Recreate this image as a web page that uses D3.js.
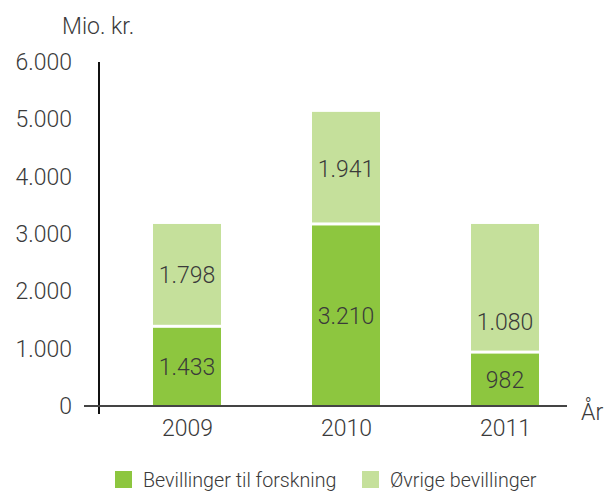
<!DOCTYPE html>
<html>
<head>
<meta charset="utf-8">
<script src="https://cdn.jsdelivr.net/npm/d3@7"></script>
<style>
  body { margin: 0; background: #fff; }
  svg text { font-family: "Roboto Light", Roboto, "Liberation Sans", sans-serif; font-weight: 300; fill: #3a3a3a; }
</style>
</head>
<body>
<div id="chart"></div>
<script>
const years = ["2009", "2010", "2011"];
// numbers printed on the bars
const forskning = [1433, 3210, 982];
const ovrige = [1798, 1941, 1080];
// segment heights as drawn in the picture (2011 is drawn taller than its labels)
const forskningDrawn = [1390, 3175, 940];
const ovrigeDrawn = [1785, 1955, 2235];
const yTicks = [0, 1000, 2000, 3000, 4000, 5000, 6000];
const legendLabels = ["Bevillinger til forskning", "Øvrige bevillinger"];

const width = 606, height = 491;
const colors = ["#8dc63f", "#c5e09b"];
const fmt = (v) => d3.format(",")(v).replace(/,/g, ".");

const svg = d3.select("#chart").append("svg")
  .attr("width", width).attr("height", height);

const y = d3.scaleLinear().domain([0, 6000]).range([406, 62]);
const x = d3.scalePoint().domain(years).range([187, 505]);
const barW = 68;
const gap = 1.5;

// bars
const g = svg.append("g");
years.forEach((yr, i) => {
  const f = forskningDrawn[i], o = ovrigeDrawn[i];
  g.append("rect")
    .attr("x", x(yr) - barW / 2).attr("width", barW)
    .attr("y", y(f) + gap).attr("height", y(0) - y(f) - gap)
    .attr("fill", colors[0]);
  g.append("rect")
    .attr("x", x(yr) - barW / 2).attr("width", barW)
    .attr("y", y(f + o)).attr("height", y(f) - y(f + o) - gap)
    .attr("fill", colors[1]);
  g.append("text")
    .attr("x", x(yr)).attr("y", y(forskning[i] / 2) + 2)
    .attr("text-anchor", "middle").attr("dy", "0.35em")
    .attr("font-size", 23).text(fmt(forskning[i]));
  g.append("text")
    .attr("x", x(yr)).attr("y", y(forskning[i] + ovrige[i] / 2) + 3)
    .attr("text-anchor", "middle").attr("dy", "0.35em")
    .attr("font-size", 23).text(fmt(ovrige[i]));
});

// y axis
const yAxis = svg.append("g").attr("transform", "translate(99,0)")
  .call(d3.axisLeft(y).tickValues(yTicks).tickSize(0).tickPadding(27).tickFormat(fmt));
yAxis.select(".domain").remove();
yAxis.selectAll("text").attr("font-size", 23).attr("fill", "#3a3a3a");
svg.append("line").attr("x1", 99).attr("x2", 99).attr("y1", 62).attr("y2", 414)
  .attr("stroke", "#111").attr("stroke-width", 2);

// x axis
const xAxis = svg.append("g").attr("transform", "translate(0,406)")
  .call(d3.axisBottom(x).tickSize(0).tickPadding(14));
xAxis.select(".domain").remove();
xAxis.selectAll("text").attr("font-size", 23).attr("fill", "#3a3a3a");
svg.append("line").attr("x1", 84).attr("x2", 567).attr("y1", 406).attr("y2", 406)
  .attr("stroke", "#444").attr("stroke-width", 2);

svg.append("text").attr("x", 62).attr("y", 34).attr("font-size", 23).text("Mio. kr.");
svg.append("text").attr("x", 581).attr("y", 420).attr("font-size", 23).text("År");

// legend
const legX = [115, 362];
legendLabels.forEach((lab, i) => {
  svg.append("rect").attr("x", legX[i]).attr("y", 471).attr("width", 17).attr("height", 17)
    .attr("fill", colors[i]);
  svg.append("text").attr("x", legX[i] + 28).attr("y", 487).attr("font-size", 19.7).text(lab);
});
</script>
</body>
</html>
